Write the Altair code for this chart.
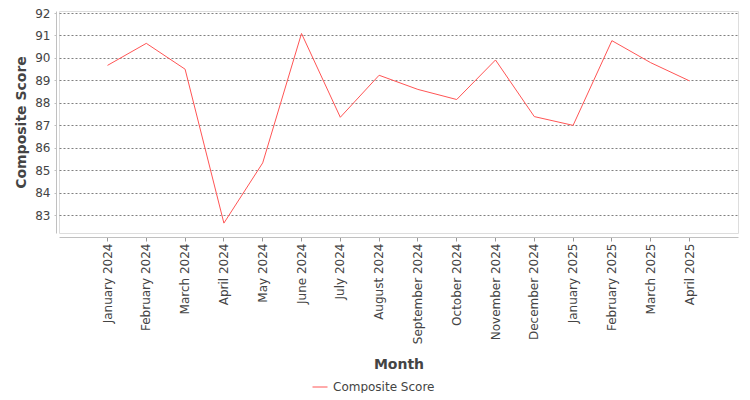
import altair as alt
import pandas as pd

months = [
    "January 2024", "February 2024", "March 2024", "April 2024", "May 2024",
    "June 2024", "July 2024", "August 2024", "September 2024", "October 2024",
    "November 2024", "December 2024", "January 2025", "February 2025",
    "March 2025", "April 2025",
]
scores = [89.67, 90.65, 89.50, 82.65, 85.33, 91.09, 87.36, 89.23, 88.60, 88.15,
          89.91, 87.39, 87.00, 90.77, 89.79, 88.98]
series_name = "Composite Score"
y_ticks = [83, 84, 85, 86, 87, 88, 89, 90, 91, 92]

df = pd.DataFrame({"Month": months, "Score": scores, "Series": [series_name] * len(months)})

FONT = "DejaVu Sans"
TXT = "#444444"

chart = alt.Chart(df).mark_line(strokeWidth=1).encode(
    x=alt.X(
        "Month:N",
        sort=months,
        bandPosition=0.5,
        scale=alt.Scale(type="band", paddingInner=0, paddingOuter=0.75),
        axis=alt.Axis(
            title="Month",
            bandPosition=0.5,
            labelAngle=-90,
            labelFont=FONT,
            labelFontSize=12,
            labelColor=TXT,
            labelPadding=2,
            tickSize=4,
            tickColor="#999999",
            domainColor="#c0c0c0",
            offset=4,
            grid=False,
            titleFont=FONT,
            titleFontSize=14,
            titleFontWeight="bold",
            titleColor=TXT,
            titlePadding=14,
        ),
    ),
    y=alt.Y(
        "Score:Q",
        scale=alt.Scale(domain=[82.21, 92.09], zero=False, nice=False),
        axis=alt.Axis(
            title="Composite Score",
            values=y_ticks,
            labelFont=FONT,
            labelFontSize=12,
            labelColor=TXT,
            labelPadding=4,
            tickSize=2,
            tickColor="#c0c0c0",
            domainColor="#c0c0c0",
            offset=3,
            grid=True,
            gridColor="#808080",
            gridDash=[2, 2],
            gridWidth=1,
            titleFont=FONT,
            titleFontSize=14,
            titleFontWeight="bold",
            titleColor=TXT,
            titlePadding=6,
        ),
    ),
    color=alt.Color(
        "Series:N",
        scale=alt.Scale(range=["#ff5555"]),
        legend=alt.Legend(
            title=None,
            orient="none",
            legendX=253,
            legendY=368,
            symbolType="stroke",
            symbolSize=225,
            symbolStrokeWidth=1,
            labelFont=FONT,
            labelFontSize=12,
            labelColor=TXT,
            labelOffset=5,
            padding=0,
        ),
    ),
).properties(
    width=679,
    height=222,
    autosize=alt.AutoSizeParams(type="none"),
    padding={"left": 51, "top": 3, "right": 4, "bottom": 160},
).configure_view(
    fill="#f4f4f4",
    stroke="#888888",
    strokeWidth=1,
).configure(
    background="white",
)

chart.save("out.html", embed_options={"renderer": "svg", "actions": False})
